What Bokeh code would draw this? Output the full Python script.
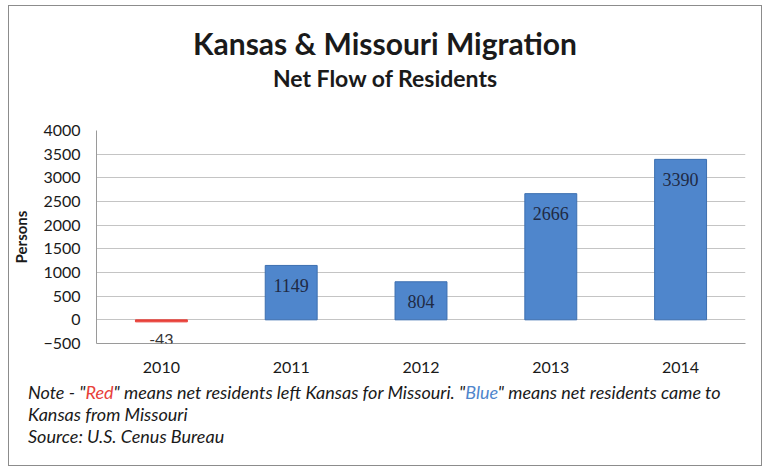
from bokeh.plotting import figure
from bokeh.models import Div, ColumnDataSource, FixedTicker, Label
from bokeh.layouts import column
from bokeh.embed import file_html
from bokeh.resources import INLINE
from bokeh.core.properties import value

years = ["2010", "2011", "2012", "2013", "2014"]
net_flow = [-43, 1149, 804, 2666, 3390]
y_ticks = [-500, 0, 500, 1000, 1500, 2000, 2500, 3000, 3500, 4000]

BLUE = "#4F86CC"
RED = "#E8413A"

xs = list(range(len(years)))
colors = [RED if v < 0 else BLUE for v in net_flow]
line_colors = [RED if v < 0 else "#3C6FB0" for v in net_flow]
# label positions derived from values: inside bar top for positive, below for negative
lab_y = [v - 420 if v >= 0 else v - 380 for v in net_flow]
lab_txt = [str(v) for v in net_flow]

src = ColumnDataSource(dict(x=xs, top=net_flow, color=colors, lc=line_colors))

W = 752

title_div = Div(
    text=(
        '<div style="width:752px;text-align:center;font-family:Lato;color:#1a1a1a;">'
        '<div style="font-size:30px;font-weight:bold;line-height:36px;padding-top:19px;">'
        'Kansas &amp; Missouri Migration</div>'
        '<div style="font-size:23px;font-weight:bold;line-height:28px;margin-top:3px;">'
        'Net Flow of Residents</div></div>'
    ),
    width=W, height=104, margin=(0, 0, 0, 0),
)

p = figure(width=W, height=270, x_range=(-0.5, len(years) - 0.5), y_range=(-500, 4000),
           output_backend="svg", toolbar_location=None,
           min_border_left=83, min_border_right=16, min_border_top=20, min_border_bottom=37)
p.margin = (0, 0, 0, 0)

p.vbar(x="x", top="top", bottom=0, width=0.4, fill_color="color", line_color="lc",
       line_width=1, source=src)

pos = [i for i, v in enumerate(net_flow) if v >= 0]
neg = [i for i, v in enumerate(net_flow) if v < 0]
src_pos = ColumnDataSource(dict(x=[xs[i] for i in pos], y=[lab_y[i] for i in pos],
                                t=[lab_txt[i] for i in pos]))
p.text(x="x", y="y", text="t", source=src_pos, text_align="center", text_baseline="middle",
       text_font=value("Liberation Serif"), text_font_size="18px", text_color="#1F2A44")
for i in neg:
    p.add_layout(Label(x=xs[i], y=lab_y[i], text=lab_txt[i], text_align="center",
                       text_baseline="middle", text_font="Lato", text_font_size="16px",
                       text_color="#333333", level="overlay"))

p.xaxis.ticker = FixedTicker(ticks=xs)
p.xaxis.major_label_overrides = {i: y for i, y in zip(xs, years)}
p.yaxis.ticker = FixedTicker(ticks=y_ticks)
p.yaxis.axis_label = "Persons"

for ax in (p.xaxis, p.yaxis):
    ax.axis_line_color = "#9a9a9a"
    ax.major_tick_line_color = None
    ax.minor_tick_line_color = None
    ax.major_label_text_font = "Lato"
    ax.major_label_text_font_size = "16px"
    ax.major_label_text_color = "#1a1a1a"

p.xaxis.major_label_standoff = 12
p.yaxis.major_label_standoff = 10
p.yaxis.axis_label_text_font = "Lato"
p.yaxis.axis_label_text_font_style = "bold"
p.yaxis.axis_label_text_font_size = "15px"
p.yaxis.axis_label_text_color = "#1a1a1a"
p.yaxis.axis_label_standoff = 10

p.xgrid.grid_line_color = None
p.ygrid.ticker = FixedTicker(ticks=y_ticks)
p.ygrid.grid_line_color = "#c4c4c4"
p.ygrid.grid_line_width = 1
p.outline_line_color = None
p.background_fill_color = "white"
p.border_fill_color = "white"

note_div = Div(
    text=(
        '<div style="width:740px;font-family:Lato;font-style:italic;font-size:18px;line-height:22px;'
        'color:#1a1a1a;padding-left:19px;padding-top:1px;">'
        'Note - "<span style="color:#E8413A;">Red</span>" means net residents left Kansas for Missouri. '
        '"<span style="color:#4F86CC;">Blue</span>" means net residents came to<br>'
        'Kansas from Missouri<br>'
        'Source: U.S. Cenus Bureau</div>'
    ),
    width=W, height=85, margin=(0, 0, 0, 0),
)

layout = column(title_div, p, note_div, margin=(5, 0, 0, 8),
                styles={"border": "1px solid #8c8c8c", "background": "white"})

open("out.html", "w").write(file_html(layout, INLINE))
